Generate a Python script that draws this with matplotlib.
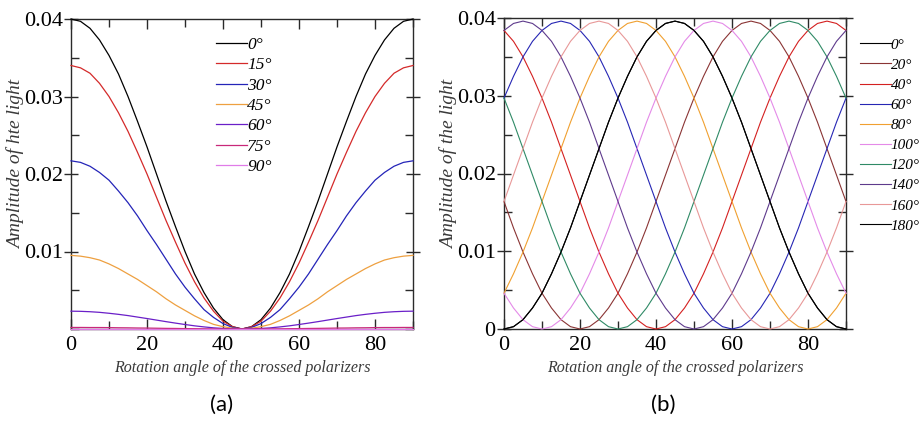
import numpy as np
import matplotlib
matplotlib.use("Agg")
import matplotlib.pyplot as plt
from matplotlib.ticker import MultipleLocator

# ---- panel (a): polarizer at fixed angles, amplitude vs rotation ----
angle_a = np.arange(0, 90.1, 2.5)
labels_a = ["0°", "15°", "30°", "45°", "60°", "75°", "90°"]
colors_a = ["#000000", "#d42a2a", "#2424b8", "#eea040", "#6a1fc8", "#c8287a", "#e07ce8"]

amp_a_0 = [.0400, .0397, .0388, .0373, .0353, .0329, .0300, .0268, .0235, .0200, .0165, .0132, .0100,
           .0071, .0047, .0027, .0012, .0003, .0000, .0003, .0012, .0027, .0047, .0071, .0100, .0132,
           .0165, .0200, .0235, .0268, .0300, .0329, .0353, .0373, .0388, .0397, .0400]
amp_a_15 = [.0340, .0337, .0330, .0317, .0300, .0279, .0255, .0228, .0200, .0170, .0140, .0112, .0085,
            .0061, .0040, .0023, .0010, .0003, .0000, .0003, .0010, .0023, .0040, .0061, .0085, .0112,
            .0140, .0170, .0200, .0228, .0255, .0279, .0300, .0317, .0330, .0337, .0340]
amp_a_30 = [.0217, .0215, .0210, .0202, .0192, .0178, .0163, .0146, .0127, .0109, .0090, .0071, .0054,
            .0039, .0025, .0015, .0007, .0002, .0000, .0002, .0007, .0015, .0025, .0039, .0054, .0071,
            .0090, .0109, .0127, .0146, .0163, .0178, .0192, .0202, .0210, .0215, .0217]
amp_a_45 = [.0095, .0094, .0092, .0089, .0084, .0078, .0071, .0064, .0056, .0048, .0039, .0031, .0024,
            .0017, .0011, .0006, .0003, .0001, .0000, .0001, .0003, .0006, .0011, .0017, .0024, .0031,
            .0039, .0048, .0056, .0064, .0071, .0078, .0084, .0089, .0092, .0094, .0095]
amp_a_60 = [.00230, .00228, .00223, .00215, .00203, .00189, .00173, .00154, .00135, .00115, .00095,
            .00076, .00058, .00041, .00027, .00015, .00007, .00002, .00000, .00002, .00007, .00015,
            .00027, .00041, .00058, .00076, .00095, .00115, .00135, .00154, .00173, .00189, .00203,
            .00215, .00223, .00228, .00230]
amp_a_75 = [.00020, .00020, .00019, .00019, .00018, .00016, .00015, .00013, .00012, .00010, .00008,
            .00007, .00005, .00004, .00002, .00001, .00001, .00000, .00000, .00000, .00001, .00001,
            .00002, .00004, .00005, .00007, .00008, .00010, .00012, .00013, .00015, .00016, .00018,
            .00019, .00019, .00020, .00020]
amp_a_90 = [0.0] * 37

# ---- panel (b): polarizer angle 0..180, amplitude vs rotation ----
angle_b = np.arange(0, 90.1, 2.5)
labels_b = ["0°", "20°", "40°", "60°", "80°", "100°", "120°", "140°", "160°", "180°"]
colors_b = ["#000000", "#8a3434", "#d42020", "#2626b4", "#f0a030", "#e48ae8", "#2f8a66",
            "#5e3a8c", "#e89898", "#000000"]

amp_b_0 = [.0000, .0003, .0012, .0027, .0046, .0071, .0099, .0130, .0164, .0198, .0232, .0266, .0297,
           .0325, .0350, .0370, .0384, .0393, .0396, .0393, .0384, .0370, .0350, .0325, .0297, .0266,
           .0232, .0198, .0164, .0130, .0099, .0071, .0046, .0027, .0012, .0003, .0000]
amp_b_20 = [.0164, .0130, .0099, .0071, .0046, .0027, .0012, .0003, .0000, .0003, .0012, .0027, .0046,
            .0071, .0099, .0130, .0164, .0198, .0232, .0266, .0297, .0325, .0350, .0370, .0384, .0393,
            .0396, .0393, .0384, .0370, .0350, .0325, .0297, .0266, .0232, .0198, .0164]
amp_b_40 = [.0384, .0370, .0350, .0325, .0297, .0266, .0232, .0198, .0164, .0130, .0099, .0071, .0046,
            .0027, .0012, .0003, .0000, .0003, .0012, .0027, .0046, .0071, .0099, .0130, .0164, .0198,
            .0232, .0266, .0297, .0325, .0350, .0370, .0384, .0393, .0396, .0393, .0384]
amp_b_60 = [.0297, .0325, .0350, .0370, .0384, .0393, .0396, .0393, .0384, .0370, .0350, .0325, .0297,
            .0266, .0232, .0198, .0164, .0130, .0099, .0071, .0046, .0027, .0012, .0003, .0000, .0003,
            .0012, .0027, .0046, .0071, .0099, .0130, .0164, .0198, .0232, .0266, .0297]
amp_b_80 = [.0046, .0071, .0099, .0130, .0164, .0198, .0232, .0266, .0297, .0325, .0350, .0370, .0384,
            .0393, .0396, .0393, .0384, .0370, .0350, .0325, .0297, .0266, .0232, .0198, .0164, .0130,
            .0099, .0071, .0046, .0027, .0012, .0003, .0000, .0003, .0012, .0027, .0046]
amp_b_100 = [.0046, .0027, .0012, .0003, .0000, .0003, .0012, .0027, .0046, .0071, .0099, .0130, .0164,
             .0198, .0232, .0266, .0297, .0325, .0350, .0370, .0384, .0393, .0396, .0393, .0384, .0370,
             .0350, .0325, .0297, .0266, .0232, .0198, .0164, .0130, .0099, .0071, .0046]
amp_b_120 = [.0297, .0266, .0232, .0198, .0164, .0130, .0099, .0071, .0046, .0027, .0012, .0003, .0000,
             .0003, .0012, .0027, .0046, .0071, .0099, .0130, .0164, .0198, .0232, .0266, .0297, .0325,
             .0350, .0370, .0384, .0393, .0396, .0393, .0384, .0370, .0350, .0325, .0297]
amp_b_140 = [.0384, .0393, .0396, .0393, .0384, .0370, .0350, .0325, .0297, .0266, .0232, .0198, .0164,
             .0130, .0099, .0071, .0046, .0027, .0012, .0003, .0000, .0003, .0012, .0027, .0046, .0071,
             .0099, .0130, .0164, .0198, .0232, .0266, .0297, .0325, .0350, .0370, .0384]
amp_b_160 = [.0164, .0198, .0232, .0266, .0297, .0325, .0350, .0370, .0384, .0393, .0396, .0393, .0384,
             .0370, .0350, .0325, .0297, .0266, .0232, .0198, .0164, .0130, .0099, .0071, .0046, .0027,
             .0012, .0003, .0000, .0003, .0012, .0027, .0046, .0071, .0099, .0130, .0164]
amp_b_180 = amp_b_0

series_a = [amp_a_0, amp_a_15, amp_a_30, amp_a_45, amp_a_60, amp_a_75, amp_a_90]
series_b = [amp_b_0, amp_b_20, amp_b_40, amp_b_60, amp_b_80, amp_b_100, amp_b_120,
            amp_b_140, amp_b_160, amp_b_180]

serif = "Liberation Serif"
plt.rcParams["font.family"] = serif
plt.rcParams["axes.linewidth"] = 1.0
plt.rcParams["axes.edgecolor"] = "#2a2a2a"

W, H = 921, 421
fig = plt.figure(figsize=(W / 100, H / 100), dpi=100)
ax_a = fig.add_axes([71 / W, 1 - 329 / H, 342 / W, 310 / H])
ax_b = fig.add_axes([504 / W, 1 - 329 / H, 342 / W, 311 / H])


def style_axes(ax, show_zero):
    ax.set_xlim(0, 90)
    ax.set_ylim(0, 0.04)
    ax.xaxis.set_major_locator(MultipleLocator(20))
    ax.xaxis.set_minor_locator(MultipleLocator(10))
    ax.yaxis.set_major_locator(MultipleLocator(0.01))
    ax.yaxis.set_minor_locator(MultipleLocator(0.005))
    ax.tick_params(which="both", direction="in", top=True, right=True,
                   color="#2a2a2a", labelsize=16)
    ax.tick_params(which="major", length=7, width=1)
    ax.tick_params(which="minor", length=6, width=1)
    ax.tick_params(axis="y", which="major", direction="inout", length=10, pad=1)
    ax.tick_params(axis="x", which="major", pad=5)
    ax.set_xticks([0, 20, 40, 60, 80])
    if show_zero:
        ax.set_yticks([0, 0.01, 0.02, 0.03, 0.04])
        ax.set_yticklabels(["0", "0.01", "0.02", "0.03", "0.04"])
    else:
        ax.set_yticks([0.01, 0.02, 0.03, 0.04])
        ax.set_yticklabels(["0.01", "0.02", "0.03", "0.04"])
    ax.set_xlabel("Rotation angle of the crossed polarizers", fontsize=11.5,
                  style="italic", color="#3a3a3a")
    ax.xaxis.set_label_coords(0.5, -0.10)


for vals, lab, col in zip(series_a, labels_a, colors_a):
    ax_a.plot(angle_a, vals, color=col, lw=0.9, label=lab, clip_on=False, zorder=3)
style_axes(ax_a, False)
ax_a.set_ylabel("Amplitude of hte light", fontsize=14, style="italic", color="#3a3a3a")
ax_a.yaxis.set_label_coords(-0.135, 0.53)
ax_a.legend(loc="upper left", bbox_to_anchor=(216 / W, 1 - 37 / H),
            bbox_transform=fig.transFigure,
            frameon=False, handlelength=1.8, handletextpad=0.0, labelspacing=0.24,
            borderaxespad=0, borderpad=0, prop={"family": serif, "style": "italic", "size": 12.5})

for vals, lab, col in zip(series_b, labels_b, colors_b):
    ax_b.plot(angle_b, vals, color=col, lw=0.8, label=lab, clip_on=False, zorder=3)
style_axes(ax_b, True)
ax_b.set_ylabel("Amplitude of the light", fontsize=14, style="italic", color="#3a3a3a")
ax_b.yaxis.set_label_coords(-0.135, 0.53)
ax_b.legend(loc="upper left", bbox_to_anchor=(860 / W, 1 - 38 / H),
            bbox_transform=fig.transFigure,
            frameon=False, handlelength=2.0, handletextpad=0.0, labelspacing=0.42,
            borderaxespad=0, borderpad=0, prop={"family": serif, "style": "italic", "size": 11})

fig.text(222 / W, 1 - 405 / H, "(a)", fontsize=16, family="Lato", ha="center", va="center")
fig.text(663 / W, 1 - 405 / H, "(b)", fontsize=16, family="Lato", ha="center", va="center")

fig.savefig("out.png", dpi=100)
